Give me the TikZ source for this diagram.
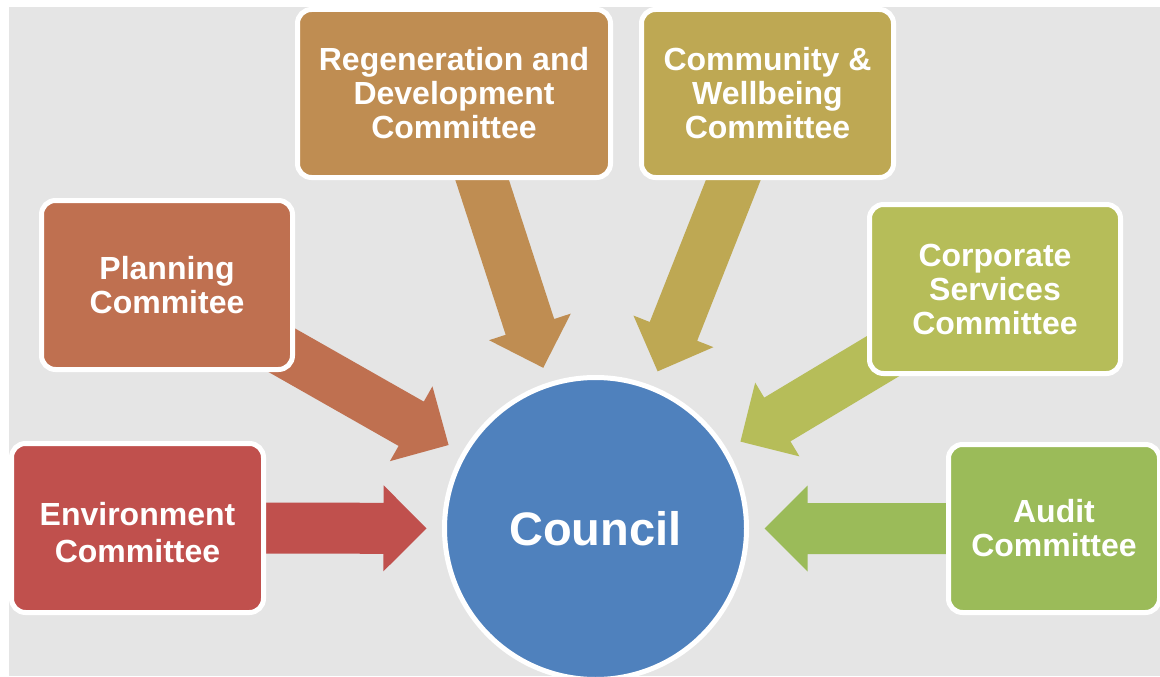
\documentclass[tikz,border=0pt]{standalone}
\usepackage{fontspec}
\setmainfont{Liberation Sans}
\usetikzlibrary{calc}

\pgfdeclarelayer{backdrop}
\pgfdeclarelayer{links}
\pgfsetlayers{backdrop,links,main}

\definecolor{panel}{HTML}{E5E5E5}
\definecolor{envred}{HTML}{C0504D}
\definecolor{planbrown}{HTML}{BF7050}
\definecolor{regenochre}{HTML}{BF8D52}
\definecolor{commgold}{HTML}{BEA853}
\definecolor{corpolive}{HTML}{B6BD59}
\definecolor{auditgreen}{HTML}{9BBB59}
\definecolor{councilblue}{HTML}{4F81BD}

\tikzset{
  committee/.style={draw=white, line width=5pt, rounded corners=14pt,
    text=white, align=center, inner sep=0pt,
    font=\bfseries\fontsize{32}{34}\selectfont},
  boxtext/.style={text=white, align=center, inner sep=0pt,
    font=\bfseries\fontsize{32}{37}\selectfont},
  hub/.style={circle, draw=white, line width=5pt, fill=councilblue,
    text=white, inner sep=0pt, minimum size=302pt,
    font=\bfseries\fontsize{47}{50}\selectfont}
}

% Block arrow from the centre of node #1 towards node #2, filled with #3;
% the tip stops short of the hub's rim.
\newcommand\feedarrow[3]{%
  \coordinate (fa-tip) at ($(#2.center)!169pt!(#1.center)$);
  \coordinate (fa-neck) at ($(fa-tip)!43pt!(#1.center)$);
  \fill[#3] ($(#1.center)!25.5pt!90:(fa-tip)$)
    -- ($(fa-neck)!25.5pt!90:(fa-tip)$)
    -- ($(fa-neck)!43pt!90:(fa-tip)$)
    -- (fa-tip)
    -- ($(fa-neck)!43pt!-90:(fa-tip)$)
    -- ($(fa-neck)!25.5pt!-90:(fa-tip)$)
    -- ($(#1.center)!25.5pt!-90:(fa-tip)$) -- cycle;
}

\begin{document}
\begin{tikzpicture}[x=1pt, y=-1pt]
  \useasboundingbox (0,0) rectangle (1160,677);

  \begin{pgfonlayer}{backdrop}
    \fill[white] (0,0) rectangle (1160,677);
    \fill[panel] (9,7) rectangle (1160,676);
  \end{pgfonlayer}

  % committees
  \node[committee, fill=envred, minimum width=252pt, minimum height=169pt,
        label={[boxtext, yshift=-5pt]center:{Environment\\Committee}}]
    (env) at (137.5,528) {};
  \node[committee, fill=planbrown, minimum width=251pt, minimum height=169pt]
    (plan) at (167,285) {Planning\\Commitee};
  \node[committee, fill=regenochre, minimum width=313pt, minimum height=168pt]
    (regen) at (454,93.5) {Regeneration and\\Development\\Committee};
  \node[committee, fill=commgold, minimum width=252pt, minimum height=168pt]
    (comm) at (767.5,93.5) {Community \&\\Wellbeing\\Committee};
  \node[committee, fill=corpolive, minimum width=251pt, minimum height=169pt]
    (corp) at (995,289) {Corporate\\Services\\Committee};
  \node[committee, fill=auditgreen, minimum width=211pt, minimum height=168pt]
    (audit) at (1054,528.5) {Audit\\Committee};

  % the council
  \node[hub] (council) at (595.5,528.5) {Council};

  % reporting lines
  \begin{pgfonlayer}{links}
    \feedarrow{env}{council}{envred}
    \feedarrow{plan}{council}{planbrown}
    \feedarrow{regen}{council}{regenochre}
    \feedarrow{comm}{council}{commgold}
    \feedarrow{corp}{council}{corpolive}
    \feedarrow{audit}{council}{auditgreen}
  \end{pgfonlayer}
\end{tikzpicture}
\end{document}
